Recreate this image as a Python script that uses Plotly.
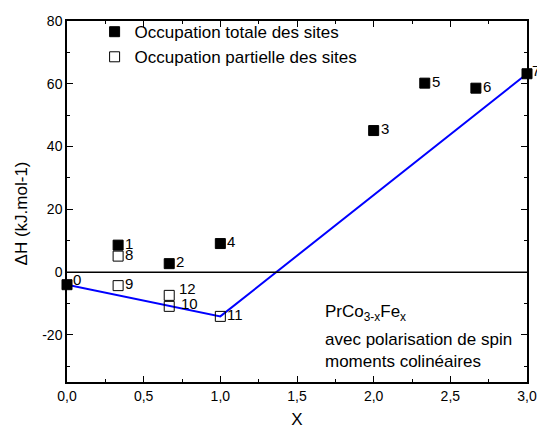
import plotly.graph_objects as go

# Data
x_total = [0.0, 1/3, 2/3, 2.0, 1.0, 7/3, 8/3, 3.0]
y_total = [-4.0, 8.6, 2.7, 45.1, 9.1, 60.2, 58.6, 63.2]
lbl_total = ["0", "1", "2", "3", "4", "5", "6", "7"]

x_partial = [1/3, 1/3, 2/3, 1.0, 2/3]
y_partial = [5.1, -4.3, -10.9, -14.1, -7.4]
lbl_partial = ["8", "9", "10", "11", "12"]

x_hull = [0.0, 1.0, 3.0]
y_hull = [-4.0, -14.1, 63.2]

x_ticks = [0.0, 0.5, 1.0, 1.5, 2.0, 2.5, 3.0]
x_ticktext = ["0,0", "0,5", "1,0", "1,5", "2,0", "2,5", "3,0"]
y_ticks = [-20, 0, 20, 40, 60, 80]
y_ticktext = ["-20", "0", "20", "40", "60", "80"]

FONT = "Arial, Liberation Sans, sans-serif"

fig = go.Figure()
fig.add_trace(go.Scatter(x=x_hull, y=y_hull, mode="lines",
                         line=dict(color="#0000ff", width=2), showlegend=False,
                         cliponaxis=False))
fig.add_trace(go.Scatter(x=x_total, y=y_total, mode="markers",
                         name="Occupation totale des sites",
                         marker=dict(symbol="square", size=10, color="black",
                                     line=dict(color="black", width=1)),
                         cliponaxis=False))
fig.add_trace(go.Scatter(x=x_partial, y=y_partial, mode="markers",
                         name="Occupation partielle des sites",
                         marker=dict(symbol="square-open", size=10, color="black",
                                     line=dict(width=1)),
                         cliponaxis=False))

# point labels
shifts = {"10": (11, 3), "12": (9, 7), "0": (5, 5), "7": (4, 3)}
for xs, ys, ls in [(x_total, y_total, lbl_total), (x_partial, y_partial, lbl_partial)]:
    for xv, yv, lv in zip(xs, ys, ls):
        dx, dy = shifts.get(lv, (6, 2))
        fig.add_annotation(x=xv, y=yv, text=lv, showarrow=False, xanchor="left",
                           yanchor="middle", xshift=dx, yshift=dy, borderpad=0,
                           font=dict(family=FONT, size=15, color="black"))

fig.add_annotation(xref="paper", yref="paper", x=0.558, y=0.19, xanchor="left",
                   yanchor="middle", showarrow=False, align="left", borderpad=0,
                   text="PrCo<sub>3-x</sub>Fe<sub>x</sub>",
                   font=dict(family=FONT, size=17, color="black"))
fig.add_annotation(xref="paper", yref="paper", x=0.558, y=0.146, xanchor="left",
                   yanchor="top", showarrow=False, align="left", borderpad=0,
                   text="avec polarisation de spin<br>moments colinéaires",
                   font=dict(family=FONT, size=17, color="black"))

# y-axis title
fig.add_annotation(xref="paper", yref="paper", x=-0.1, y=0.467, textangle=-90,
                   xanchor="center", yanchor="middle",
                   showarrow=False, text="ΔH (kJ.mol-1)",
                   font=dict(family=FONT, size=17, color="black"))

fig.add_hline(y=0, line=dict(color="black", width=1.5))

axis_common = dict(showline=True, linecolor="black", linewidth=1.5, mirror="allticks",
                   ticks="inside", ticklen=6, tickwidth=1.2, tickcolor="black",
                   showgrid=False, zeroline=False, automargin=False,
                   tickfont=dict(family=FONT, size=14, color="black"))

fig.update_xaxes(range=[0, 3], tickvals=x_ticks, ticktext=x_ticktext,
                 minor=dict(ticks="inside", ticklen=3, dtick=0.25, tickcolor="black",
                            tickwidth=1.2),
                 title=dict(text="X", font=dict(family=FONT, size=17, color="black"),
                            standoff=14),
                 **axis_common)
fig.update_yaxes(range=[-35, 80], tickvals=y_ticks, ticktext=y_ticktext,
                 minor=dict(ticks="inside", ticklen=3, dtick=10, tickcolor="black",
                            tickwidth=1.2),
                 **axis_common)

fig.update_layout(width=537, height=429, margin=dict(l=67, r=10, t=21, b=47),
                  plot_bgcolor="white", paper_bgcolor="white",
                  font=dict(family=FONT, color="black"),
                  legend=dict(x=0.06, y=1.019, xanchor="left", yanchor="top",
                              bgcolor="rgba(0,0,0,0)", tracegroupgap=0,
                              font=dict(family=FONT, size=17, color="black")))

fig.write_html("out.html", config={"displayModeBar": False},
               post_script="document.body.style.margin='0';document.body.style.overflow='hidden';")
